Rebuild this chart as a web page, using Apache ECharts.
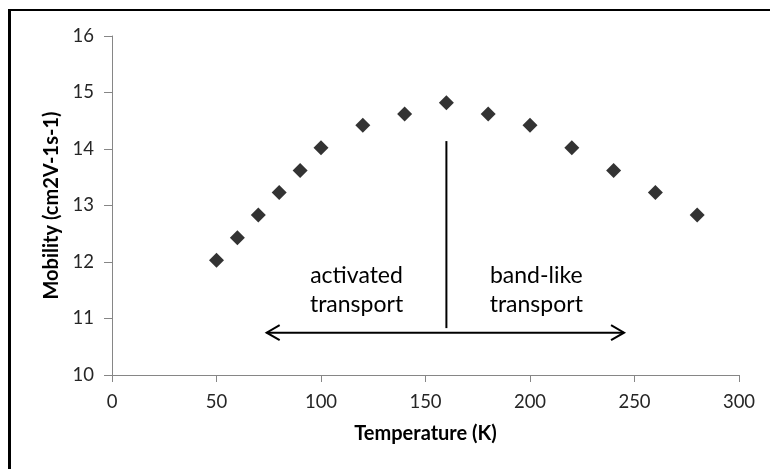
<!DOCTYPE html>
<html>
<head>
<meta charset="utf-8">
<script src="https://cdn.jsdelivr.net/npm/echarts@6/dist/echarts.min.js"></script>
<style>
  html, body { margin: 0; padding: 0; background: #fff; }
  #chart { width: 770px; height: 469px; }
</style>
</head>
<body>
<div id="chart"></div>
<script>
const temperature = [50, 60, 70, 80, 90, 100, 120, 140, 160, 180, 200, 220, 240, 260, 280];
const mobility = [12.03, 12.43, 12.83, 13.23, 13.62, 14.02, 14.42, 14.62, 14.82, 14.62, 14.42, 14.02, 13.62, 13.23, 12.83];

// annotation: divider line + double arrow + two captions
const dividerX = 160;
const dividerSpan = [10.83, 14.14];
const arrowSpan = [74, 245];
const arrowY = 10.75;
const captionX = [117, 203];
const captionY = 11.5;
const captionText = ["activated\ntransport", "band-like\ntransport"];

const chart = echarts.init(document.getElementById("chart"));

const pts = temperature.map((t, i) => [t, mobility[i]]);
const FONT = "Lato";

const option = {
  animation: false,
  backgroundColor: "#fff",
  grid: { left: 112, right: 31, top: 36, bottom: 94 },
  xAxis: {
    type: "value",
    min: 0, max: 300, interval: 50,
    name: "Temperature (K)",
    nameLocation: "middle",
    nameGap: 49,
    nameTextStyle: { fontFamily: FONT, fontWeight: "bold", fontSize: 20, color: "#000" },
    axisLine: { show: true, lineStyle: { color: "#868686", width: 1 } },
    axisTick: { show: true, length: 7, lineStyle: { color: "#868686" } },
    axisLabel: { fontFamily: FONT, fontSize: 18.5, color: "#262626", margin: 18 },
    splitLine: { show: false }
  },
  yAxis: {
    type: "value",
    min: 10, max: 16, interval: 1,
    name: "Mobility (cm2V-1s-1)",
    nameLocation: "middle",
    nameGap: 49,
    nameTextStyle: { fontFamily: FONT, fontWeight: "bold", fontSize: 20, color: "#000" },
    axisLine: { show: true, lineStyle: { color: "#868686", width: 1 } },
    axisTick: { show: true, length: 8, lineStyle: { color: "#868686" } },
    axisLabel: { fontFamily: FONT, fontSize: 18.5, color: "#262626", margin: 18 },
    splitLine: { show: false }
  },
  graphic: [
    // frame: only the top and left edges show in the picture
    { type: "line", shape: { x1: 9, y1: 10, x2: 770, y2: 10 }, style: { stroke: "#000", lineWidth: 2 } },
    { type: "line", shape: { x1: 9.5, y1: 9, x2: 9.5, y2: 469 }, style: { stroke: "#000", lineWidth: 3 } }
  ],
  series: [
    {
      type: "scatter",
      data: pts,
      symbol: "diamond",
      symbolSize: 15,
      itemStyle: { color: "#000" }
    },
    {
      type: "custom",
      data: [0],
      silent: true,
      renderItem: function (params, api) {
        const top = api.coord([dividerX, dividerSpan[1]]);
        const bot = api.coord([dividerX, dividerSpan[0]]);
        const a = api.coord([arrowSpan[0], arrowY]);
        const b = api.coord([arrowSpan[1], arrowY]);
        const ax = 13, ay = 7.5;
        const kids = [
          { type: "line", shape: { x1: top[0], y1: top[1], x2: bot[0], y2: bot[1] }, style: { stroke: "#000", lineWidth: 2 } },
          { type: "line", shape: { x1: a[0], y1: a[1], x2: b[0], y2: b[1] }, style: { stroke: "#000", lineWidth: 2 } },
          { type: "polyline", shape: { points: [[a[0] + ax, a[1] - ay], a, [a[0] + ax, a[1] + ay]] }, style: { stroke: "#000", lineWidth: 2, fill: null } },
          { type: "polyline", shape: { points: [[b[0] - ax, b[1] - ay], b, [b[0] - ax, b[1] + ay]] }, style: { stroke: "#000", lineWidth: 2, fill: null } }
        ];
        captionText.forEach(function (txt, i) {
          const p = api.coord([captionX[i], captionY]);
          kids.push({
            type: "text",
            x: p[0], y: p[1],
            style: {
              text: txt,
              fontFamily: FONT, fontSize: 23, lineHeight: 29,
              fill: "#000", align: "center", verticalAlign: "middle"
            }
          });
        });
        return { type: "group", children: kids };
      }
    }
  ]
};

chart.setOption(option);
</script>
</body>
</html>
